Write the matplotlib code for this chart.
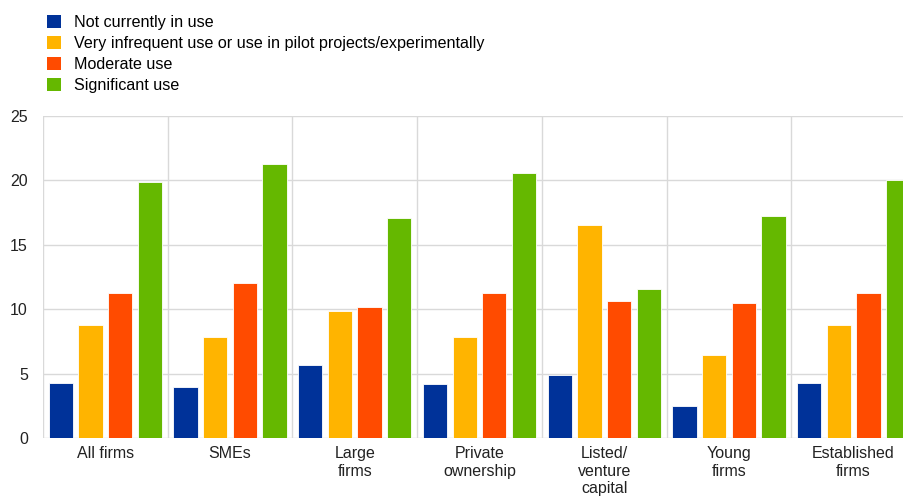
import matplotlib
matplotlib.use("Agg")
import matplotlib.pyplot as plt
from matplotlib.patches import Patch
import numpy as np

plt.rcParams['font.family'] = ['Liberation Sans', 'DejaVu Sans']

groups = ["All firms", "SMEs", "Large\nfirms", "Private\nownership",
          "Listed/\nventure\ncapital", "Young\nfirms", "Established\nfirms"]
series = ["Not currently in use",
          "Very infrequent use or use in pilot projects/experimentally",
          "Moderate use",
          "Significant use"]
not_used = [4.3, 4.0, 5.7, 4.2, 4.9, 2.5, 4.3]
infrequent = [8.75, 7.85, 9.85, 7.85, 16.5, 6.45, 8.75]
moderate = [11.25, 12.0, 10.2, 11.25, 10.6, 10.5, 11.25]
significant = [19.9, 21.25, 17.1, 20.55, 11.55, 17.25, 20.05]
colors = ["#003299", "#FFB400", "#FF4B00", "#65B800"]

values = [not_used, infrequent, moderate, significant]

fig = plt.figure(figsize=(9.04, 4.99), dpi=100)
ax = fig.add_axes([0.0476, 0.1222, 1 - 0.0476, 0.6453])

x = np.arange(len(groups))
step = 0.238
width = 0.195
for i, vals in enumerate(values):
    ax.bar(x + (i - 1.5) * step, vals, width, color=colors[i],
           edgecolor="white", linewidth=0.6, zorder=3)

ax.set_ylim(0, 25)
ax.set_yticks([0, 5, 10, 15, 20, 25])
ax.set_xlim(-0.5, 6.404)
ax.set_xticks(x)
ax.set_xticklabels(groups, linespacing=1.2)
ax.tick_params(axis="both", length=0, labelsize=11.5, colors="#222222")
ax.tick_params(axis="x", pad=6)
ax.tick_params(axis="y", pad=11)

# gridlines: horizontal at ticks, vertical between groups
ax.grid(axis="y", color="#d9d9d9", linewidth=1, zorder=0)
for b in np.arange(-0.5, 7, 1):
    ax.axvline(b, color="#d9d9d9", linewidth=1, zorder=0)
for s in ax.spines.values():
    s.set_visible(False)

handles = [Patch(facecolor=c, edgecolor="none") for c in colors]
fig.legend(handles, series, loc="upper left", bbox_to_anchor=(0.045, 0.982),
           frameon=False, fontsize=11.6, handlelength=0.85, handleheight=0.85,
           handletextpad=0.8, labelspacing=0.36, borderaxespad=0)

fig.savefig("out.png", dpi=100)
